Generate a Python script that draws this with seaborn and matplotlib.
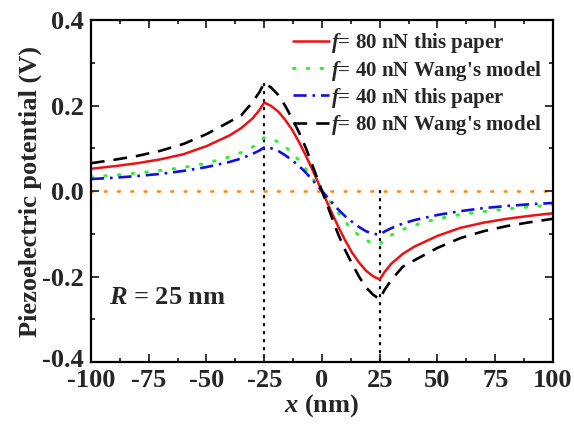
import numpy as np
import pandas as pd
import matplotlib
matplotlib.use("Agg")
import matplotlib.pyplot as plt
import matplotlib.transforms as mtransforms
import seaborn as sns

# ---- data ----
x_nm = [-100, -90, -80, -70, -60, -50, -40, -35, -30, -27, -25, -22, -19, -16, -13, -10, -7, -4, 0,
        4, 7, 10, 13, 16, 19, 22, 25, 27, 30, 35, 40, 50, 60, 70, 80, 90, 100]

red_80_paper = [0.052, 0.058, 0.065, 0.074, 0.086, 0.105, 0.130, 0.147, 0.170, 0.190, 0.207, 0.199, 0.186,
                0.167, 0.144, 0.115, 0.083, 0.048, 0.0,
                -0.048, -0.083, -0.115, -0.144, -0.167, -0.186, -0.199, -0.207, -0.190, -0.170, -0.147,
                -0.130, -0.105, -0.086, -0.074, -0.065, -0.058, -0.052]

green_40_wang = [0.033, 0.037, 0.042, 0.048, 0.055, 0.065, 0.080, 0.090, 0.103, 0.114, 0.125, 0.122, 0.115,
                 0.104, 0.090, 0.072, 0.051, 0.029, 0.0,
                 -0.029, -0.051, -0.072, -0.090, -0.104, -0.115, -0.122, -0.125, -0.114, -0.103, -0.090,
                 -0.080, -0.065, -0.055, -0.048, -0.042, -0.037, -0.033]

blue_40_paper = [0.028, 0.031, 0.035, 0.040, 0.047, 0.056, 0.068, 0.076, 0.087, 0.095, 0.102, 0.100, 0.094,
                 0.084, 0.072, 0.059, 0.043, 0.025, 0.0,
                 -0.025, -0.043, -0.059, -0.072, -0.084, -0.094, -0.100, -0.102, -0.095, -0.087, -0.076,
                 -0.068, -0.056, -0.047, -0.040, -0.035, -0.031, -0.028]

black_80_wang = [0.065, 0.073, 0.082, 0.094, 0.110, 0.133, 0.162, 0.177, 0.208, 0.232, 0.253, 0.242, 0.225,
                 0.200, 0.170, 0.138, 0.101, 0.058, 0.0,
                 -0.058, -0.101, -0.138, -0.170, -0.200, -0.225, -0.242, -0.253, -0.232, -0.208, -0.177,
                 -0.162, -0.133, -0.110, -0.094, -0.082, -0.073, -0.065]

labels = [r"$f$= 80 nN this paper", r"$f$= 40 nN Wang's model",
          r"$f$= 40 nN this paper", r"$f$= 80 nN Wang's model"]
x_ticks = [-100, -75, -50, -25, 0, 25, 50, 75, 100]
y_ticks = [-0.4, -0.2, 0.0, 0.2, 0.4]

# ---- style ----
sns.set_style("ticks")
plt.rcParams["font.family"] = ["Liberation Serif", "DejaVu Serif"]
plt.rcParams["font.weight"] = "bold"
plt.rcParams["mathtext.fontset"] = "custom"
plt.rcParams["mathtext.rm"] = "Liberation Serif:bold"
plt.rcParams["mathtext.it"] = "Liberation Serif:italic:bold"
plt.rcParams["mathtext.bf"] = "Liberation Serif:bold"

fig = plt.figure(figsize=(5.74, 4.24), dpi=100)
ax = fig.add_axes([0.1585, 0.1462, 0.8049, 0.8066])

df = pd.DataFrame({"x": x_nm, "red": red_80_paper, "green": green_40_wang,
                   "blue": blue_40_paper, "black": black_80_wang})

styles = [
    ("red", "#EE1111", 1.8, dict(linestyle="-")),
    ("green", "#33EE33", 2.2, dict(linestyle=(0, (0.5, 4.0)), dash_capstyle="round")),
    ("blue", "#1111DD", 1.9, dict(linestyle=(0, (5.0, 2.2, 1.0, 2.2)))),
    ("black", "#000000", 1.9, dict(linestyle=(0, (5.2, 3.4)))),
]
for (col, color, lw, kw), lab in zip(styles, labels):
    sns.lineplot(data=df, x="x", y=col, ax=ax, color=color, linewidth=lw, label=lab, **kw)

# reference lines
ax.axhline(0, color="#FF8C1A", linestyle=(0, (0.6, 4.2)), linewidth=2.0, dash_capstyle="round", zorder=0)
ax.plot([-25, -25], [0.25, -0.4], color="black", linestyle=(0, (0.6, 3.0)), linewidth=1.6,
        dash_capstyle="round", zorder=0)
ax.plot([25, 25], [0.0, -0.4], color="black", linestyle=(0, (0.6, 3.0)), linewidth=1.6,
        dash_capstyle="round", zorder=0)

ax.set_xlim(-100, 100)
ax.set_ylim(-0.4, 0.4)
ax.set_xticks(x_ticks)
ax.set_yticks(y_ticks)
ax.set_xticklabels([str(t) for t in x_ticks])
ax.set_yticklabels([f"{t:.1f}" for t in y_ticks])
ax.xaxis.set_minor_locator(matplotlib.ticker.MultipleLocator(12.5))
ax.yaxis.set_minor_locator(matplotlib.ticker.MultipleLocator(0.1))
ax.tick_params(which="both", direction="in", top=True, right=True, width=1.3, labelsize=19)
ax.tick_params(axis="y", pad=5)
ax.tick_params(axis="x", pad=5)
ax.tick_params(which="major", length=6)
ax.tick_params(which="minor", length=3)
for lab in ax.get_xticklabels() + ax.get_yticklabels():
    lab.set_fontweight("bold")
# lift the bottom y label slightly so it clears the first x label
bottom_lab = ax.get_yticklabels()[0]
bottom_lab.set_transform(bottom_lab.get_transform() +
                         mtransforms.ScaledTranslation(0, 3 / 72, fig.dpi_scale_trans))
for s in ax.spines.values():
    s.set_linewidth(1.6)
    s.set_color("black")

ax.set_xlabel(r"$x$ (nm)", fontsize=19, fontweight="bold", labelpad=0)
ax.set_ylabel("Piezoelectric potential (V)", fontsize=19, fontweight="bold", labelpad=0)

ax.text(-92, -0.248, r"$R$ = 25 nm", fontsize=19, fontweight="bold", va="center", ha="left")

leg = ax.legend(loc="upper right", bbox_to_anchor=(1.0, 1.0), frameon=False,
                prop={"size": 15, "weight": "bold"}, handlelength=1.7, handletextpad=0.1,
                labelspacing=0.15, borderaxespad=0.15)

fig.savefig("out.png", dpi=100)
